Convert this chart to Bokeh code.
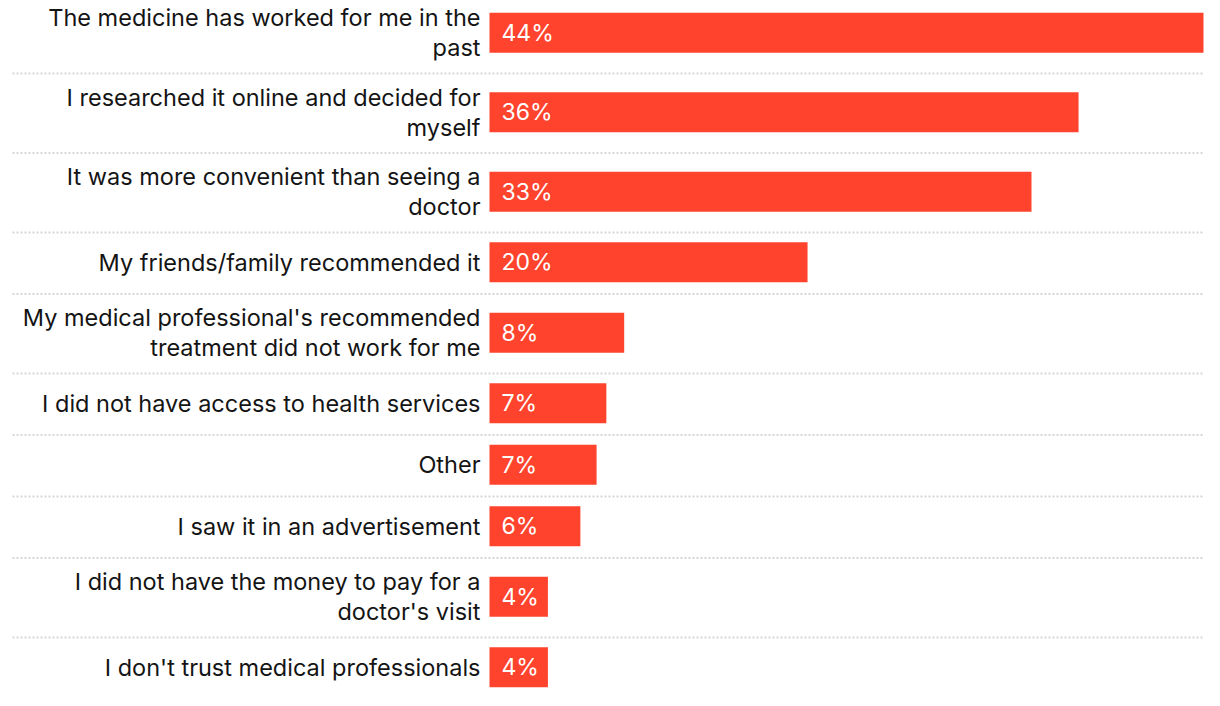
from bokeh.plotting import figure
from bokeh.models import Range1d, ColumnDataSource
from bokeh.core.properties import value
from bokeh.embed import file_html
from bokeh.resources import INLINE

categories = [
    "The medicine has worked for me in the\npast",
    "I researched it online and decided for\nmyself",
    "It was more convenient than seeing a\ndoctor",
    "My friends/family recommended it",
    "My medical professional's recommended\ntreatment did not work for me",
    "I did not have access to health services",
    "Other",
    "I saw it in an advertisement",
    "I did not have the money to pay for a\ndoctor's visit",
    "I don't trust medical professionals",
]
values = [44.0, 36.3, 33.4, 19.6, 8.3, 7.2, 6.6, 5.6, 3.6, 3.6]
value_labels = ["44%", "36%", "33%", "20%", "8%", "7%", "7%", "6%", "4%", "4%"]

FONT = "Inter"
W, H = 1204, 690
BAR_X0 = 489          # pixel position (inside figure) where bars start
PX_PER_PCT = (1203 - BAR_X0) / 44.0
Y_OFFSET = 6          # reference pixels cut off at the top

# row layout (in pixels from top of the reference picture)
ONE_LINE_ROW = 61.5
EXTRA_PER_LINE = 18.0
BAR_H = 40

centers, bottoms = [], []
y = -0.5
for c in categories:
    n = c.count("\n") + 1
    h = ONE_LINE_ROW + (n - 1) * EXTRA_PER_LINE
    centers.append(y + h / 2 - 1)
    y += h
    bottoms.append(y)

x_start = -BAR_X0 / PX_PER_PCT
x_end = (W - BAR_X0) / PX_PER_PCT

p = figure(width=W, height=H, output_backend="svg", toolbar_location=None,
           x_range=Range1d(x_start, x_end),
           y_range=Range1d(Y_OFFSET + H, Y_OFFSET),
           min_border=0, outline_line_color=None)
p.axis.visible = False
p.grid.visible = False
p.background_fill_color = "white"
p.border_fill_color = "white"

src = ColumnDataSource(dict(cat=categories, val=values, lab=value_labels,
                            y=centers))

# dotted separators between rows
sep_y = bottoms[:-1]
p.segment(x0=(12 - BAR_X0) / PX_PER_PCT, x1=values[0], y0=sep_y, y1=sep_y,
          line_color="#d6d6d6", line_width=2, line_dash="2 2")

p.hbar(y="y", right="val", left=0, height=BAR_H, source=src,
       fill_color="#ff432d", line_color=None)

p.text(x=-9 / PX_PER_PCT, y="y", text="cat", source=src,
       text_align="right", text_baseline="middle",
       text_font=value(FONT), text_font_size="23.5px", text_color="#141414",
       text_line_height=1.02)

p.text(x=12 / PX_PER_PCT, y="y", text="lab", source=src,
       text_align="left", text_baseline="middle",
       text_font=value(FONT), text_font_size="23px", text_color="white")

open("out.html", "w").write(file_html(p, INLINE))
